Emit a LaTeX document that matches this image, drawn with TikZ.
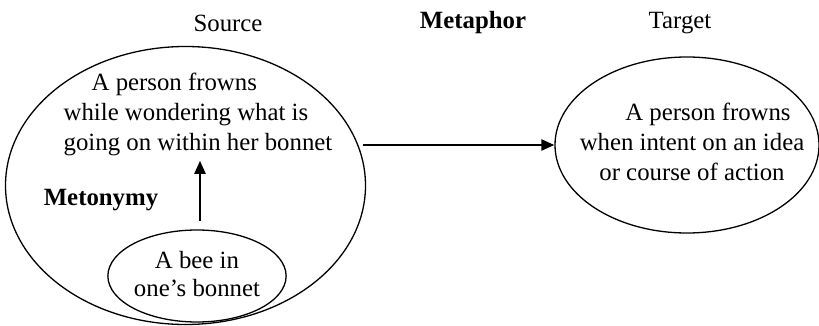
\documentclass[tikz,border=0pt]{standalone}
\usepackage{fontspec}
\setmainfont{Liberation Serif}
\usepackage{tikz}
\usetikzlibrary{arrows.meta,shapes.geometric,positioning,calc}

\begin{document}
\begin{tikzpicture}[x=0.5pt, y=-0.5pt,
  every node/.style={font=\fontsize{12.4}{15}\selectfont, inner sep=0pt},
  domainbox/.style={draw, ellipse, line width=0.65pt},
  maplink/.style={line width=1.2pt, -{Triangle[length=6.5pt,width=5.5pt]}}]
  \useasboundingbox (0,0) rectangle (819,326);
  % Headings
  \node (srchead) at (228,23) {Source};
  \node[font=\fontsize{12.4}{15}\selectfont\bfseries] (metaphor) at (473,23) {Metaphor};
  \node (tgthead) at (680,23) {Target};
  % Source domain
  \node[domainbox, minimum width=180pt, minimum height=139pt] (src) at (185.5,185.5) {};
  \node[align=left] (srctext) at (198,114)
    {\hspace*{14pt}A person frowns\\while wondering what is\\going on within her bonnet};
  \node[domainbox, minimum width=78pt, minimum height=46pt] (bee) at (197,276)
    {\begin{tabular}{@{}c@{}}A bee in\\[-1pt]one’s bonnet\end{tabular}};
  \node[font=\fontsize{12.4}{15}\selectfont\bfseries] (metonymy) at (101,200) {Metonymy};
  % Target domain
  \node[domainbox, minimum width=132pt, minimum height=88pt] (tgt) at (687,145) {};
  \node[align=center] (tgttext) at (692,142)
    {\hspace*{16pt}A person frowns\\when intent on an idea\\or course of action};
  % Mappings
  \draw[maplink] ($(bee.north)+(3,-8)$) -- ($(srctext.south)+(2,5)$);
  \draw[maplink] ([xshift=-1.5pt]src.east |- tgt.west) -- (tgt.west);
\end{tikzpicture}
\end{document}
